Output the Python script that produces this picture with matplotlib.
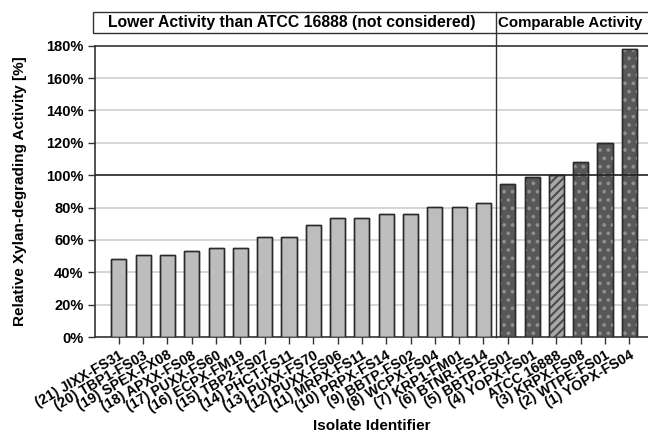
import matplotlib
matplotlib.use("Agg")
import matplotlib.pyplot as plt
from matplotlib.patches import Rectangle
import matplotlib.transforms as mtransforms

plt.rcParams['font.family'] = ['Liberation Sans', 'DejaVu Sans']
plt.rcParams['font.weight'] = 'bold'
plt.rcParams['hatch.linewidth'] = 1.5

# Data
isolates = ["(21) JIXX-FS31", "(20) TBP1-FS03", "(19) SPEX-FX08", "(18) APXX-FS08",
            "(17) PUXX-FS60", "(16) ECPX-FM19", "(15) TBP2-FS07", "(14) PHCT-FS11",
            "(13) PUXX-FS70", "(12) PUXX-FS06", "(11) MRPX-FS11", "(10) PRPX-FS14",
            "(9) BBTP-FS02", "(8) WCPX-FS04", "(7) KRP1-FM01", "(6) BTNR-FS14",
            "(5) BBTP-FS01", "(4) YOPX-FS01", "ATCC 16888", "(3) KRPX-FS08",
            "(2) WTPE-FS01", "(1) YOPX-FS04"]
activity = [48.4, 50.6, 50.6, 53.0, 55.2, 55.2, 62.0, 62.0, 69.0, 73.6, 73.6,
            75.8, 75.8, 80.4, 80.4, 82.9, 94.4, 99.0, 100.0, 108.3, 119.8, 177.7]
group = ["low"] * 16 + ["comp", "comp", "ref", "comp", "comp", "comp"]
yticks = [0, 20, 40, 60, 80, 100, 120, 140, 160, 180]
header_left = "Lower Activity than ATCC 16888 (not considered)"
header_right = "Comparable Activity"

fig = plt.figure(figsize=(6.48, 4.34), dpi=100)
ax = fig.add_axes([0.147, 0.2235, 0.853, 0.6712])

x = list(range(len(isolates)))
colors = {"low": "#bdbdbd", "comp": "#585858", "ref": "#a8a8a8"}
for xi, v, g in zip(x, activity, group):
    ax.bar(xi, v, width=0.62, color=colors[g], edgecolor="#2a2a2a",
           linewidth=1.0, zorder=3)
    if g == "comp":
        ax.bar(xi, v, width=0.62, facecolor="none", edgecolor="#8e8e8e",
               hatch="..", linewidth=0, zorder=3)
    elif g == "ref":
        ax.bar(xi, v, width=0.62, facecolor="none", edgecolor="#4a4a4a",
               hatch="////", linewidth=0, zorder=3)
    ax.bar(xi, v, width=0.62, facecolor="none", edgecolor="#2a2a2a",
           linewidth=1.0, zorder=4)

ax.set_xlim(-0.97, 21.77)
ax.set_ylim(0, 180)
ax.set_yticks(yticks)
ax.set_yticklabels([f"{t}%" for t in yticks], fontsize=10.5, fontweight="bold")
ax.set_xticks(x)
ax.set_xticklabels(isolates, rotation=30, ha="right", rotation_mode="anchor",
                   fontsize=10.3, fontweight="bold")
ax.tick_params(axis="both", direction="out", length=5, color="#333333", width=1)
ax.tick_params(axis="x", pad=3)

for t in yticks:
    if t in (0, 100, 180):
        continue
    ax.axhline(t, color="#cfcfcf", linewidth=1.2, zorder=1)
ax.axhline(100, color="#202020", linewidth=1.2, zorder=5)

for s in ["left", "bottom", "top"]:
    ax.spines[s].set_color("#333333")
    ax.spines[s].set_linewidth(1.2)
ax.spines["right"].set_visible(False)

ax.set_ylabel("Relative Xylan-degrading Activity [%]", fontsize=11,
              fontweight="bold", labelpad=14)
ax.set_xlabel("Isolate Identifier", fontsize=11, fontweight="bold", labelpad=3)

# header boxes
trans = mtransforms.blended_transform_factory(ax.transData, ax.transAxes)
box = Rectangle((-1.05, 1.042), 24, 0.075, transform=trans, facecolor="white",
                edgecolor="#333333", linewidth=1.0, clip_on=False)
ax.add_patch(box)
ax.plot([15.5, 15.5], [0, 1.117], transform=trans, color="#333333",
        linewidth=1.0, clip_on=False, zorder=6)
ax.text(7.1, 1.079, header_left, transform=trans, ha="center", va="center",
        fontsize=11.3, fontweight="bold")
ax.text(15.58, 1.079, header_right, transform=trans, ha="left", va="center",
        fontsize=10.8, fontweight="bold")

fig.savefig("out.png", dpi=100)
